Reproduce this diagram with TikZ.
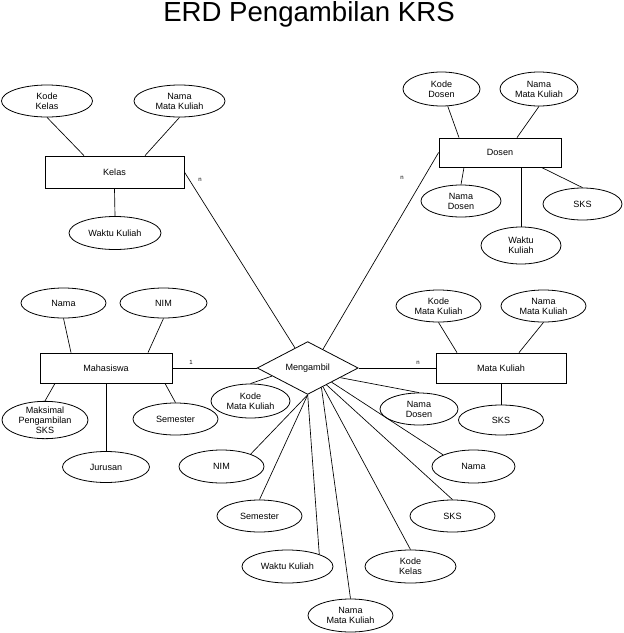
\documentclass[tikz,border=0pt]{standalone}
\usepackage{fontspec}
\setmainfont{Liberation Sans}
\usetikzlibrary{shapes.geometric,calc}
\newcommand\erdlbl{\fontsize{6.8}{7.4}\selectfont}
\begin{document}
\begin{tikzpicture}[x=0.75pt,y=-0.75pt,
  attr/.style 2 args={ellipse,draw,line width=0.6pt,inner sep=0pt,minimum width=#1*0.75pt,minimum height=#2*0.75pt,align=center,font=\erdlbl},
  ent/.style 2 args={rectangle,draw,line width=0.6pt,inner sep=0pt,minimum width=#1*0.75pt,minimum height=#2*0.75pt,font=\erdlbl},
  rel/.style={diamond,draw,line width=0.6pt,inner sep=0pt,minimum width=101*0.75pt,minimum height=47*0.75pt,font=\erdlbl},
  conn/.style={line width=0.5pt},
  card/.style={font=\fontsize{4.5}{5}\selectfont,inner sep=0pt}]
\fill[white] (0,0) rectangle (624,633);
\useasboundingbox (0,0) rectangle (624,633);

\node[font=\fontsize{20.7}{24}\selectfont,anchor=base] (title) at (309,21.5) {ERD Pengambilan KRS};

% Kelas
\node[ent={139}{32}] (kelas) at (114.5,172) {Kelas};
\node[attr={91}{32}] (kk1) at (47,101) {Kode\\Kelas};
\node[attr={91}{32}] (nmk1) at (179.5,101) {Nama\\Mata Kuliah};
\node[attr={92}{33}] (wk1) at (115,233) {Waktu Kuliah};

% Dosen
\node[ent={122}{29}] (dosen) at (500,152.5) {Dosen};
\node[attr={77}{34}] (kd2) at (441.5,89) {Kode\\Dosen};
\node[attr={78}{34}] (nmk2) at (539,89) {Nama\\Mata Kuliah};
\node[attr={80}{32}] (nd2) at (461,201) {Nama\\Dosen};
\node[attr={79}{32}] (sks2) at (582.5,204) {SKS};
\node[attr={80}{37}] (wk2) at (521,245.5) {Waktu\\Kuliah};

% Mahasiswa
\node[ent={132}{30}] (mhs) at (106,368) {Mahasiswa};
\node[attr={85}{30}] (nama3) at (63.5,303) {Nama};
\node[attr={87}{30}] (nim3) at (163.5,303) {NIM};
\node[attr={86}{34}] (maks3) at (45,420) {Maksimal\\Pengambilan\\SKS};
\node[attr={85}{32}] (sem3) at (175.5,419) {Semester};
\node[attr={87}{31}] (jur3) at (106,467) {Jurusan};

% Mata Kuliah
\node[ent={130}{30}] (mk) at (501,368) {Mata Kuliah};
\node[attr={85}{32}] (kmk4) at (438.5,306) {Kode\\Mata Kuliah};
\node[attr={85}{32}] (nmk4) at (543.5,306) {Nama\\Mata Kuliah};
\node[attr={85}{30}] (sks4) at (501,420) {SKS};

% Relationship
\node[rel] (dia) at (307.7,368) {Mengambil};
\node[attr={79}{34}] (kmk5) at (250.5,401) {Kode\\Mata Kuliah};
\node[attr={78}{32}] (nd5) at (419,409) {Nama\\Dosen};
\node[attr={85}{33}] (nim5) at (221.5,466.5) {NIM};
\node[attr={83}{33}] (nama5) at (473.5,466.5) {Nama};
\node[attr={85}{32}] (sem5) at (259.5,516) {Semester};
\node[attr={85}{32}] (sks5) at (452.5,516) {SKS};
\node[attr={91}{33}] (wk5) at (287.5,566.5) {Waktu Kuliah};
\node[attr={91}{33}] (kk5) at (410.5,566.5) {Kode\\Kelas};
\node[attr={85}{33}] (nmk5) at (350.5,615.5) {Nama\\Mata Kuliah};

% cardinalities
\node[card] (c1) at (200,180) {n};
\node[card] (c2) at (402,178) {n};
\node[card] (c3) at (191,362) {1};
\node[card] (c4) at (418,363) {n};

% connectors: Kelas
\draw[conn] (kk1.south) -- ($(kelas.north)+(-30.5,0)$);
\draw[conn] (nmk1.south) -- ($(kelas.north)+(30.5,0)$);
\draw[conn] (kelas.south) -- (wk1.north);
% Dosen
\draw[conn] (kd2.-70) -- ($(dosen.north)+(-41,0)$);
\draw[conn] (nmk2.south) -- ($(dosen.north)+(17,0)$);
\draw[conn] ($(dosen.south)+(-36,0)$) -- (nd2.north);
\draw[conn] ($(dosen.south)+(21,0)$) -- (wk2.north);
\draw[conn] ($(dosen.south)+(41.5,0)$) -- (sks2.north);
% Mahasiswa
\draw[conn] (nama3.south) -- ($(mhs.north)+(-35,0)$);
\draw[conn] (nim3.south) -- ($(mhs.north)+(42,0)$);
\draw[conn] ($(mhs.south)+(-51,0)$) -- (maks3.north);
\draw[conn] ($(mhs.south)+(59,0)$) -- (sem3.north);
\draw[conn] (mhs.south) -- (jur3.north);
% Mata Kuliah
\draw[conn] (kmk4.south) -- ($(mk.north)+(-44,0)$);
\draw[conn] (nmk4.south) -- ($(mk.north)+(18,0)$);
\draw[conn] (mk.south) -- (sks4.north);
% relationship links
\draw[conn] (mhs.east) -- (dia.west);
\draw[conn] (dia.east) -- (mk.west);
\draw[conn] (kelas.east) -- ($(dia.north)!0.25!(dia.west)$);
\draw[conn] (dosen.west) -- ($(dia.north)!0.3!(dia.east)$);
% relationship attributes
\draw[conn] ($(dia.west)!0.3!(dia.south)$) -- (kmk5.north);
\draw[conn] ($(dia.east)!0.36!(dia.south)$) -- (nd5.north);
\draw[conn] ($(dia.south)!0.47!(dia.east)$) -- (nama5.159);
\draw[conn] ($(dia.south)!0.37!(dia.east)$) -- (sks5.north);
\draw[conn] ($(dia.south)!0.3!(dia.east)$) -- (kk5.north);
\draw[conn] ($(dia.south)!0.27!(dia.east)$) -- (nmk5.north);
\draw[conn] (dia.south) -- (wk5.21);
\draw[conn] (dia.south) -- (sem5.north);
\draw[conn] (dia.south) -- (nim5.23);
\end{tikzpicture}
\end{document}
